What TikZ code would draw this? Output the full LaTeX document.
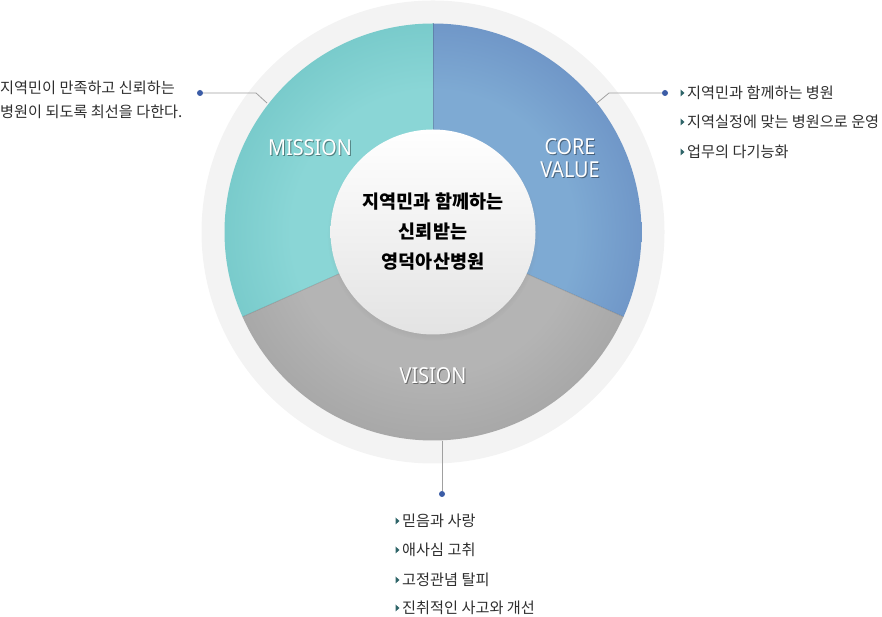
\documentclass[tikz,border=0pt]{standalone}
\usepackage{fontspec}
\setmainfont{Noto Sans CJK KR}
\newfontfamily\latfont{Noto Sans}
\usetikzlibrary{shadows}
\definecolor{ringgray}{HTML}{F3F3F3}
\definecolor{misD}{HTML}{64BDBE}
\definecolor{misL}{HTML}{8AD6D6}
\definecolor{corD}{HTML}{6284BD}
\definecolor{corL}{HTML}{7EAAD3}
\definecolor{visD}{HTML}{999999}
\definecolor{visL}{HTML}{B4B4B4}
\definecolor{txt}{HTML}{2E2E2E}
\definecolor{dotblue}{HTML}{3B5CA6}
\definecolor{linegray}{HTML}{A0A0A0}
\definecolor{trigreen}{HTML}{2E6468}
\definecolor{hubbot}{HTML}{E3E3E3}
\pgfdeclareradialshading{misshade}{\pgfpoint{0bp}{0bp}}{color(0bp)=(misL); color(17bp)=(misL); color(35bp)=(misD); color(50bp)=(misD)}
\pgfdeclareradialshading{corshade}{\pgfpoint{0bp}{0bp}}{color(0bp)=(corL); color(17bp)=(corL); color(33bp)=(corD); color(50bp)=(corD)}
\pgfdeclareradialshading{visshade}{\pgfpoint{0bp}{0bp}}{color(0bp)=(visL); color(17bp)=(visL); color(35bp)=(visD); color(50bp)=(visD)}
\tikzset{
  seglabel/.style={font=\latfont\fontsize{22}{23}\selectfont, text=white, align=center, inner sep=0},
  segshadow/.style={seglabel, text=black, opacity=0.4},
  sepline/.style={black, opacity=0.15, line width=0.7pt},
  listitem/.style={anchor=west, inner sep=0, text=txt, font=\fontsize{15.2}{17}\selectfont},
  conn/.style={linegray, line width=0.8pt},
  dot/.style={circle, fill=dotblue, inner sep=0, minimum size=6pt},
  tri/.style={fill=trigreen}
}
\begin{document}
\begin{tikzpicture}[x=1pt,y=1pt]
\useasboundingbox (0,0) rectangle (882,617);
\coordinate (C) at (433,385);
% outer ring
\fill[ringgray] (C) circle (231.5);
% sectors
\begin{scope}
  \clip (C) -- ++(90:208.5) arc[start angle=90,end angle=204,radius=208.5] -- cycle;
  \shade[shading=misshade] (C) circle (208.5);
\end{scope}
\begin{scope}
  \clip (C) -- ++(-24:208.5) arc[start angle=-24,end angle=90,radius=208.5] -- cycle;
  \shade[shading=corshade] (C) circle (208.5);
\end{scope}
\begin{scope}
  \clip (C) -- ++(204:208.5) arc[start angle=204,end angle=336,radius=208.5] -- cycle;
  \shade[shading=visshade] (C) circle (208.5);
\end{scope}
\draw[sepline] ([shift={(90:95)}]C) -- ([shift={(90:208.5)}]C);
\draw[sepline] ([shift={(-24:95)}]C) -- ([shift={(-24:208.5)}]C);
\draw[sepline] ([shift={(204:95)}]C) -- ([shift={(204:208.5)}]C);
% hub
\node[circle, minimum size=205pt, inner sep=0, top color=white, bottom color=hubbot,
  circular drop shadow={shadow xshift=0pt, shadow yshift=-3pt, shadow scale=1.03, opacity=0.35},
  font=\fontsize{18.5}{30}\selectfont\bfseries, text=black, align=center] (hub) at (C)
  {지역민과 함께하는\\신뢰받는\\영덕아산병원};
% segment labels
\node[segshadow] (missionsh) at (311,468) {\scalebox{0.9}[1]{MISSION}};
\node[seglabel] (mission) at (310,469) {\scalebox{0.9}[1]{MISSION}};
\node[segshadow] (coresh) at (571,457.5) {\scalebox{0.9}[1]{CORE}\\\scalebox{0.9}[1]{VALUE}};
\node[seglabel] (core) at (570,458.5) {\scalebox{0.9}[1]{CORE}\\\scalebox{0.9}[1]{VALUE}};
\node[segshadow] (visionsh) at (434,240) {\scalebox{0.9}[1]{VISION}};
\node[seglabel] (vision) at (433,241) {\scalebox{0.9}[1]{VISION}};
% mission connector and text
\coordinate (mend) at (267,514);
\coordinate (mbend) at (256,524);
\node[dot] (mdot) at (200,524) {};
\draw[conn] (mend) -- (mbend) -- (mdot);
\node[anchor=west, inner sep=0, text=txt, align=left, font=\fontsize{15.2}{24}\selectfont] (mtext) at (0,517)
  {지역민이 만족하고 신뢰하는\\병원이 되도록 최선을 다한다.};
% core value connector and list
\coordinate (cend) at (597,514);
\coordinate (cbend) at (609,524);
\node[dot] (cdot) at (665,524) {};
\draw[conn] (cend) -- (cbend) -- (cdot);
\node[listitem] (r1) at (687,524) {지역민과 함께하는 병원};
\node[listitem] (r2) at (687,495) {지역실정에 맞는 병원으로 운영};
\node[listitem] (r3) at (687,465) {업무의 다기능화};
\foreach \n in {r1,r2,r3}
  \fill[tri] (\n.west) ++(-6.5,3.5) -- ++(4,-3.5) -- ++(-4,-3.5) -- cycle;
% vision connector and list
\coordinate (vend) at (442,176);
\node[dot] (vdot) at (442,123) {};
\draw[conn] (vend) -- (vdot);
\node[listitem] (b1) at (402,96) {믿음과 사랑};
\node[listitem] (b2) at (402,67) {애사심 고취};
\node[listitem] (b3) at (402,37) {고정관념 탈피};
\node[listitem] (b4) at (402,9) {진취적인 사고와 개선};
\foreach \n in {b1,b2,b3,b4}
  \fill[tri] (\n.west) ++(-6.5,3.5) -- ++(4,-3.5) -- ++(-4,-3.5) -- cycle;
\end{tikzpicture}
\end{document}
